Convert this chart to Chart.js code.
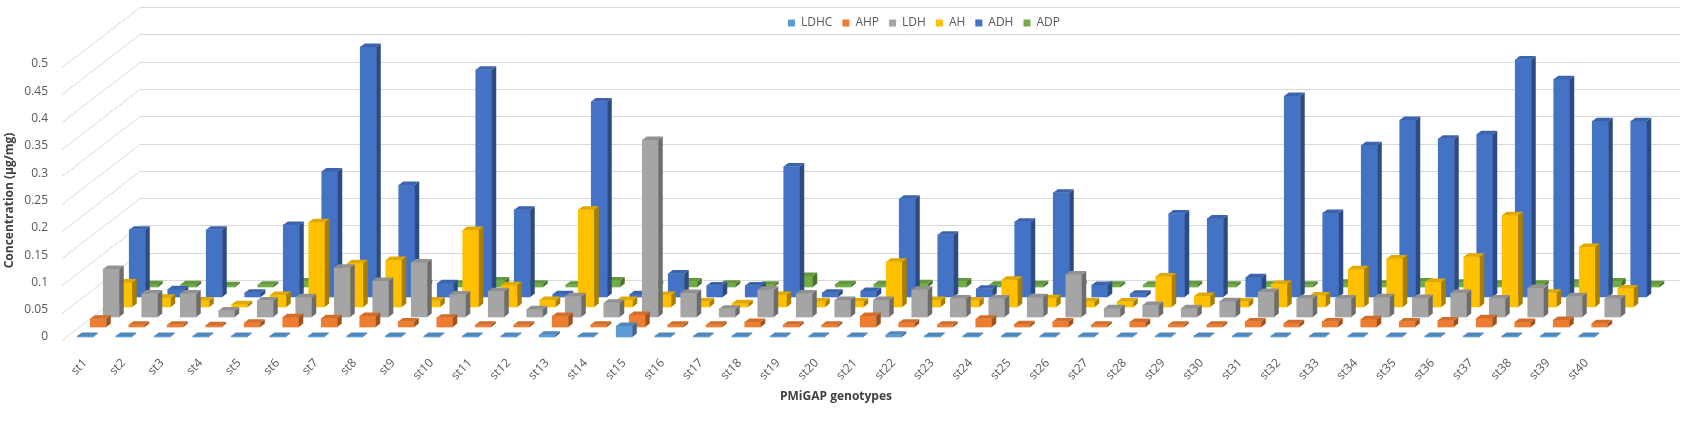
<!DOCTYPE html>
<html>
<head>
<meta charset="utf-8">
<title>PMiGAP genotypes</title>
<script src="https://cdn.jsdelivr.net/npm/chart.js@4.4.0/dist/chart.umd.min.js"></script>
<style>
  html, body { margin: 0; padding: 0; background: #fff; }
  #wrap { width: 1687px; height: 421px; }
</style>
</head>
<body>
<div id="wrap"><canvas id="chart"></canvas></div>
<script>
// categories
const genotypes = ['st1', 'st2', 'st3', 'st4', 'st5', 'st6', 'st7', 'st8', 'st9', 'st10',
  'st11', 'st12', 'st13', 'st14', 'st15', 'st16', 'st17', 'st18', 'st19', 'st20',
  'st21', 'st22', 'st23', 'st24', 'st25', 'st26', 'st27', 'st28', 'st29', 'st30',
  'st31', 'st32', 'st33', 'st34', 'st35', 'st36', 'st37', 'st38', 'st39', 'st40'];

// concentration values (µg/mg)
const ldhc = [0.002, 0.002, 0.002, 0.002, 0.002, 0.002, 0.002, 0.002, 0.002, 0.002,
  0.002, 0.002, 0.004, 0.002, 0.02, 0.002, 0.002, 0.002, 0.002, 0.002,
  0.002, 0.004, 0.002, 0.002, 0.002, 0.002, 0.002, 0.002, 0.002, 0.002,
  0.002, 0.002, 0.002, 0.002, 0.002, 0.002, 0.002, 0.002, 0.002, 0.002];
const ahp = [0.015, 0.004, 0.004, 0.003, 0.008, 0.018, 0.016, 0.02, 0.01, 0.017,
  0.004, 0.004, 0.02, 0.004, 0.022, 0.004, 0.004, 0.009, 0.004, 0.004,
  0.02, 0.008, 0.004, 0.015, 0.005, 0.01, 0.004, 0.009, 0.004, 0.004,
  0.01, 0.007, 0.01, 0.014, 0.01, 0.012, 0.016, 0.009, 0.013, 0.007];
const ldh = [0.088, 0.043, 0.043, 0.012, 0.03, 0.036, 0.09, 0.066, 0.1, 0.041,
  0.047, 0.014, 0.038, 0.026, 0.324, 0.044, 0.015, 0.05, 0.043, 0.031,
  0.031, 0.05, 0.034, 0.034, 0.036, 0.078, 0.016, 0.022, 0.016, 0.029,
  0.046, 0.034, 0.034, 0.036, 0.035, 0.044, 0.034, 0.053, 0.038, 0.034];
const ah = [0.045, 0.017, 0.012, 0.005, 0.022, 0.155, 0.08, 0.086, 0.012, 0.141,
  0.04, 0.013, 0.178, 0.013, 0.022, 0.01, 0.007, 0.022, 0.01, 0.01,
  0.083, 0.013, 0.012, 0.05, 0.016, 0.01, 0.01, 0.056, 0.02, 0.01,
  0.042, 0.021, 0.069, 0.089, 0.046, 0.092, 0.168, 0.026, 0.11, 0.034];
const adh = [0.123, 0.014, 0.123, 0.008, 0.132, 0.23, 0.458, 0.205, 0.025, 0.416,
  0.16, 0.005, 0.358, 0.005, 0.043, 0.021, 0.021, 0.239, 0.008, 0.011,
  0.18, 0.114, 0.015, 0.138, 0.191, 0.022, 0.006, 0.153, 0.144, 0.036,
  0.368, 0.154, 0.278, 0.324, 0.29, 0.298, 0.435, 0.399, 0.322, 0.322];
const adp = [0.005, 0.005, 0.003, 0.004, 0.01, 0.008, 0.01, 0.006, 0.006, 0.012,
  0.006, 0.004, 0.012, 0.005, 0.01, 0.006, 0.004, 0.02, 0.005, 0.005,
  0.007, 0.01, 0.004, 0.005, 0.006, 0.004, 0.004, 0.005, 0.004, 0.004,
  0.004, 0.008, 0.006, 0.01, 0.008, 0.006, 0.006, 0.008, 0.01, 0.005];

// value axis ticks
const yTicks = [0, 0.05, 0.1, 0.15, 0.2, 0.25, 0.3, 0.35, 0.4, 0.45, 0.5];

const seriesNames = ['LDHC', 'AHP', 'LDH', 'AH', 'ADH', 'ADP'];
const seriesValues = [ldhc, ahp, ldh, ah, adh, adp];
const colors = ['#5B9BD5', '#ED7D31', '#A5A5A5', '#FFC000', '#4472C4', '#70AD47'];

// fake 3d: every series sits one row further back
const ROW_DX = 13, ROW_DY = -10;
const BAR_DX = 4.5, BAR_DY = -3.5;
const WALL_FRONT = -0.3, WALL_BACK = 5.7;
const LEGEND_SHIFT = 121;

function shade(hex, f) {
    const n = parseInt(hex.slice(1), 16);
    const r = Math.round(((n >> 16) & 255) * f);
    const g = Math.round(((n >> 8) & 255) * f);
    const b = Math.round((n & 255) * f);
    return 'rgb(' + r + ',' + g + ',' + b + ')';
}

const depthPlugin = {
    id: 'depth',
    afterLayout(chart) {
        // legend sits right of centre in the original
        chart.legend.left += LEGEND_SHIFT;
        chart.legend.right += LEGEND_SHIFT;
    },
    beforeDatasetsDraw(chart) {
        const ctx = chart.ctx;
        const a = chart.chartArea;
        const y = chart.scales.y;
        ctx.save();
        ctx.strokeStyle = '#d9d9d9';
        ctx.lineWidth = 1;
        y.ticks.forEach(t => {
            const py = Math.round(y.getPixelForValue(t.value)) + 0.5;
            ctx.beginPath();
            ctx.moveTo(a.left + WALL_FRONT * ROW_DX, py + WALL_FRONT * ROW_DY);
            ctx.lineTo(a.left + WALL_BACK * ROW_DX, py + WALL_BACK * ROW_DY);
            ctx.lineTo(a.right + WALL_BACK * ROW_DX, py + WALL_BACK * ROW_DY);
            ctx.stroke();
        });
        ctx.restore();
    },
    beforeDatasetDraw(chart, args) {
        chart.ctx.save();
        chart.ctx.translate(args.index * ROW_DX, args.index * ROW_DY);
    },
    afterDatasetDraw(chart, args) {
        const ctx = chart.ctx;
        const base = colors[args.index];
        args.meta.data.forEach(bar => {
            const l = bar.x - bar.width / 2, r = bar.x + bar.width / 2;
            const t = bar.y, b = bar.base;
            // side
            ctx.fillStyle = shade(base, 0.66);
            ctx.beginPath();
            ctx.moveTo(r, t);
            ctx.lineTo(r + BAR_DX, t + BAR_DY);
            ctx.lineTo(r + BAR_DX, b + BAR_DY);
            ctx.lineTo(r, b);
            ctx.closePath();
            ctx.fill();
            // top
            ctx.fillStyle = shade(base, 0.88);
            ctx.beginPath();
            ctx.moveTo(l, t);
            ctx.lineTo(l + BAR_DX, t + BAR_DY);
            ctx.lineTo(r + BAR_DX, t + BAR_DY);
            ctx.lineTo(r, t);
            ctx.closePath();
            ctx.fill();
        });
        ctx.restore();
    }
};

Chart.defaults.font.family = '"Open Sans", sans-serif';
Chart.defaults.font.size = 12;
Chart.defaults.color = '#595959';

new Chart(document.getElementById('chart'), {
    type: 'bar',
    data: {
        labels: genotypes,
        datasets: seriesNames.map((name, i) => ({
            label: name,
            data: seriesValues[i],
            backgroundColor: colors[i],
            borderWidth: 0,
            barThickness: 16,
            grouped: false,
            clip: false
        }))
    },
    options: {
        responsive: true,
        maintainAspectRatio: false,
        animation: false,
        layout: { padding: { top: 7, right: 81, bottom: 0, left: 0 } },
        plugins: {
            tooltip: { enabled: false },
            legend: {
                position: 'top',
                labels: { boxWidth: 7, boxHeight: 7, padding: 10, color: '#595959' }
            },
            // empty spacer between legend and plot
            title: {
                display: true,
                text: '',
                weight: 500,
                font: { size: 10 },
                padding: { top: 0, bottom: 13 }
            }
        },
        scales: {
            x: {
                grid: { display: false, drawTicks: false },
                border: { display: false },
                ticks: { minRotation: 45, maxRotation: 45, autoSkip: false, padding: 19, color: '#595959' },
                title: {
                    display: true,
                    text: 'PMiGAP genotypes',
                    color: '#404040',
                    font: { weight: 'bold', size: 12 },
                    padding: { top: 4, bottom: 17 }
                },
                afterFit(s) { s.height = 84; }
            },
            y: {
                min: 0,
                max: 0.5,
                grid: { display: false, drawTicks: false },
                border: { display: false },
                afterBuildTicks(s) { s.ticks = yTicks.map(v => ({ value: v })); },
                ticks: { padding: 18, color: '#595959', callback: v => String(+v.toFixed(2)) },
                title: {
                    display: true,
                    text: 'Concentration (µg/mg)',
                    color: '#404040',
                    font: { weight: 'bold', size: 12 },
                    padding: { top: 2, bottom: 0 }
                },
                afterFit(s) { s.width = 66; }
            }
        }
    },
    plugins: [depthPlugin]
});
</script>
</body>
</html>
